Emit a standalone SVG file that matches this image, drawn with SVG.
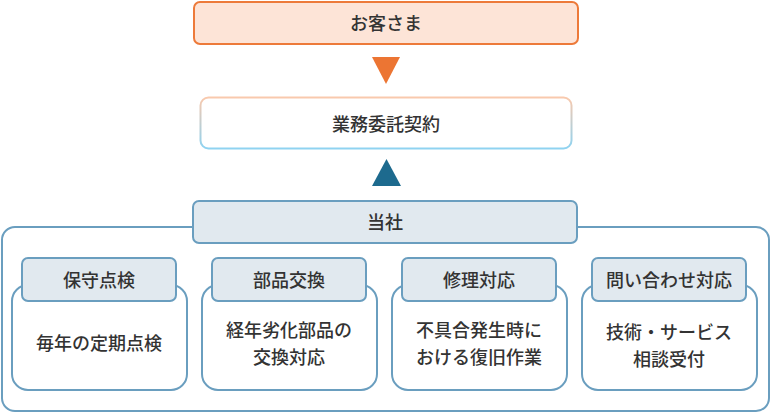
<svg xmlns="http://www.w3.org/2000/svg" width="771" height="413" viewBox="0 0 771 413">
<defs>
<linearGradient id="g1" x1="0" y1="0" x2="0" y2="1">
<stop offset="0" stop-color="#f9c9ad"/>
<stop offset="1" stop-color="#8fd3f1"/>
</linearGradient>
<style>
text{font-family:"Noto Sans CJK JP","Noto Sans",sans-serif;font-size:18px;font-weight:500;fill:#333;text-anchor:middle;dominant-baseline:central}
.tab{fill:#e1e9ef;stroke:#6a9ebf;stroke-width:2}
.body{fill:#fff;stroke:#6a9ebf;stroke-width:2}
</style>
</defs>
<rect width="771" height="413" fill="#fff"/>
<g id="customer">
<rect x="194" y="2" width="384" height="42" rx="6" fill="#fde4d7" stroke="#ed7a3a" stroke-width="2"/>
<text x="386" y="22">お客さま</text>
</g>
<g id="contract">
<rect x="200.5" y="97.5" width="371" height="51" rx="8" fill="#fff" stroke="url(#g1)" stroke-width="2"/>
<text x="386" y="123">業務委託契約</text>
</g>
<g id="connectors">
<polygon points="372,57 400,57 386,84" fill="#ec7533"/>
<polygon points="372,186 401,186 386.5,159" fill="#1d6a8e"/>
</g>
<g id="company">
<rect x="2" y="227" width="767" height="184" rx="13" fill="#fff" stroke="#6a9ebf" stroke-width="2"/>
<rect class="tab" x="193" y="201" width="384" height="42" rx="6"/>
<text x="385" y="221">当社</text>
</g>
<g id="maintenance">
<rect class="body" x="12" y="285" width="175" height="105" rx="16"/>
<rect class="tab" x="22" y="258" width="154" height="43" rx="6"/>
<text x="99" y="279">保守点検</text>
<text x="99" y="342">毎年の定期点検</text>
</g>
<g id="parts">
<rect class="body" x="202" y="285" width="175" height="105" rx="16"/>
<rect class="tab" x="212" y="258" width="154" height="43" rx="6"/>
<text x="289" y="279">部品交換</text>
<text x="289" y="329.4">経年劣化部品の<tspan x="289" dy="26.3">交換対応</tspan></text>
</g>
<g id="repair">
<rect class="body" x="392" y="285" width="175" height="105" rx="16"/>
<rect class="tab" x="402" y="258" width="154" height="43" rx="6"/>
<text x="479" y="279">修理対応</text>
<text x="479" y="329.4">不具合発生時に<tspan x="479" dy="26.3">おける復旧作業</tspan></text>
</g>
<g id="inquiry">
<rect class="body" x="582" y="285" width="175" height="105" rx="16"/>
<rect class="tab" x="592" y="258" width="154" height="43" rx="6"/>
<text x="669" y="279">問い合わせ対応</text>
<text x="669" y="331.4">技術・サービス<tspan x="669" dy="26.3">相談受付</tspan></text>
</g>
</svg>
